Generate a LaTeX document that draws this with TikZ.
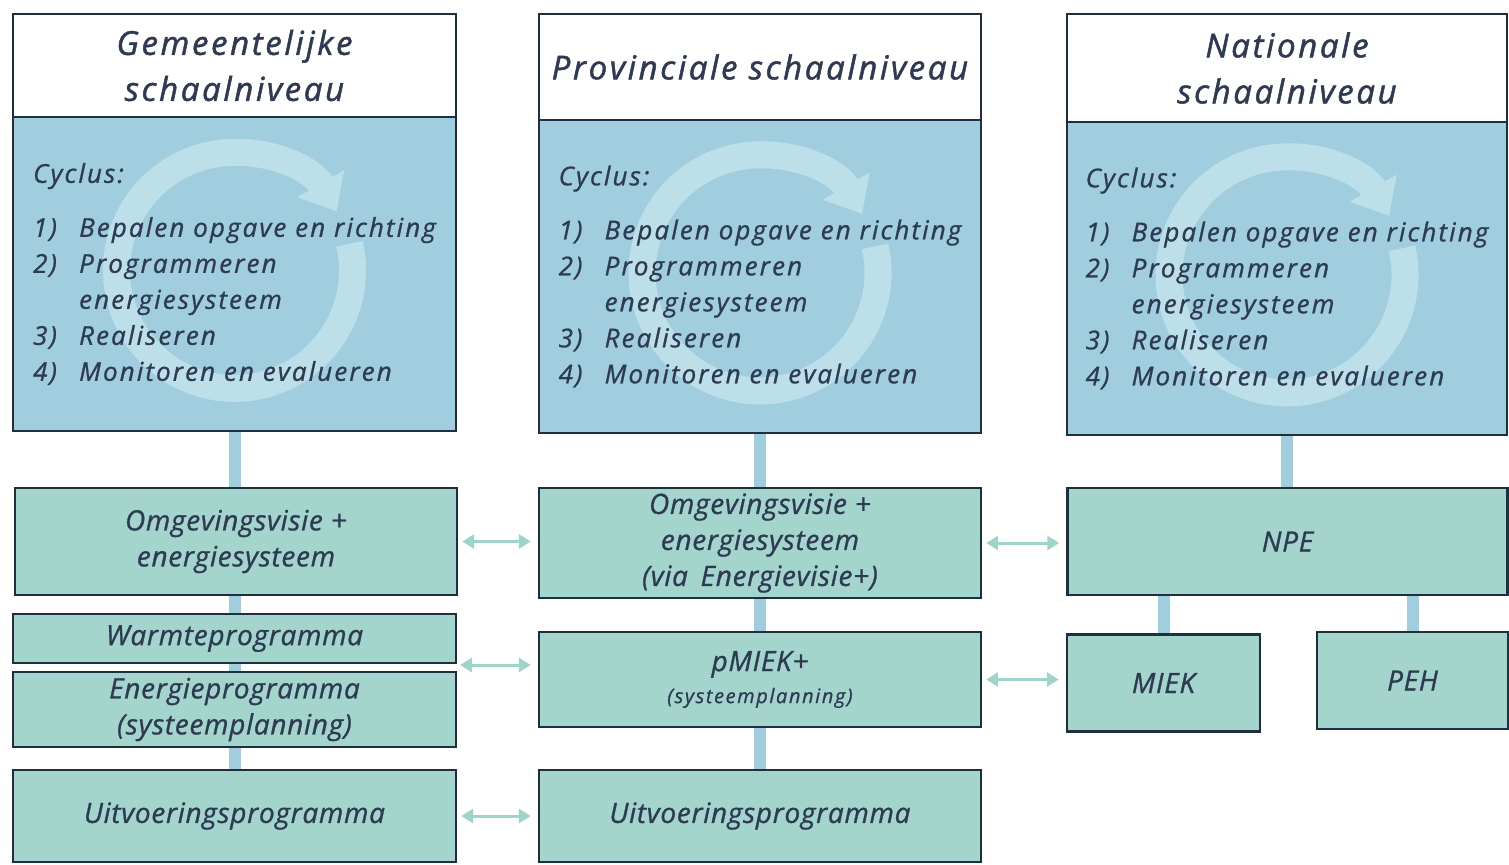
\documentclass[tikz,border=0pt]{standalone}
\usepackage{fontspec}
\setmainfont{Open Sans}
\newfontfamily\handhead{Open Sans}[LetterSpace=8, FakeBold=1.4]
\newfontfamily\handwide{Open Sans}[LetterSpace=8, FakeBold=0.9]
\newfontfamily\handnarrow{Open Sans}[LetterSpace=2.5, FakeBold=0.9]
\usetikzlibrary{arrows.meta,backgrounds}
\definecolor{ink}{HTML}{2E3A52}
\definecolor{edge}{HTML}{1E3040}
\definecolor{cycblue}{HTML}{A0CEDE}
\definecolor{grnfill}{HTML}{A3D5CD}
\definecolor{barblue}{HTML}{A0CEDE}
\definecolor{linkgrn}{HTML}{9FD4CA}
\definecolor{ringblue}{HTML}{BDDFEA}
\newcommand{\itm}[1]{\makebox[23pt][l]{#1}}
\begin{document}
\begin{tikzpicture}[x=0.5pt,y=-0.5pt,
  box/.style={draw=edge, line width=1.2pt, inner sep=0pt, align=center, text=ink,
    font=\handnarrow\itshape\fontsize{14}{18}\selectfont},
  head/.style={box, fill=white, font=\handhead\itshape\fontsize{16.5}{23}\selectfont},
  cyc/.style={box, fill=cycblue, align=left, font=\handwide\itshape\fontsize{13}{18}\selectfont,
    path picture={\draw[draw=ringblue, line width=13.5pt, -{Triangle[width=26pt,length=16pt]}]
      ([yshift=1.8pt]path picture bounding box.center) ++(-13:118)
      arc[start angle=-13, end angle=330, radius=118];}},
  grn/.style={box, fill=grnfill},
  bar/.style={draw=barblue, line width=6pt},
  link/.style={draw=linkgrn, line width=1.5pt,
    {Triangle[width=7pt,length=6pt]}-{Triangle[width=7pt,length=6pt]},
    shorten <=2pt, shorten >=3.5pt}]
\useasboundingbox (0,0) rectangle (1509,864);

% column 1
\node[head, minimum width=221.5pt, minimum height=51.5pt] (h1) at (234.5,65.5) {Gemeentelijke\\schaalniveau};
\node[cyc, minimum width=221.5pt, minimum height=157pt] (c1) at (234.5,274)
  {Cyclus:\\[9pt]\itm{1)}Bepalen opgave en richting\\\itm{2)}Programmeren\\\itm{}energiesysteem\\\itm{3)}Realiseren\\\itm{4)}Monitoren en evalueren};
\node[grn, minimum width=221pt, minimum height=53.5pt] (g1) at (236,541.5) {Omgevingsvisie +\\energiesysteem};
\node[grn, minimum width=221.5pt, minimum height=24.5pt] (w1) at (234.5,638.5) {Warmteprogramma};
\node[grn, minimum width=221.5pt, minimum height=37.5pt] (e1) at (234.5,709.5) {Energieprogramma\\(systeemplanning)};
\node[grn, minimum width=221.5pt, minimum height=46pt] (u1) at (234.5,816) {Uitvoeringsprogramma};

% column 2
\node[head, minimum width=221pt, minimum height=53pt] (h2) at (760,67) {Provinciale schaalniveau};
\node[cyc, minimum width=221pt, minimum height=156.5pt] (c2) at (760,276.5)
  {Cyclus:\\[9pt]\itm{1)}Bepalen opgave en richting\\\itm{2)}Programmeren\\\itm{}energiesysteem\\\itm{3)}Realiseren\\\itm{4)}Monitoren en evalueren};
\node[grn, minimum width=221pt, minimum height=55pt] (g2) at (760,543) {Omgevingsvisie +\\energiesysteem\\(via\, Energievisie+)};
\node[grn, minimum width=221pt, minimum height=47.5pt] (p2) at (760,679.5) {pMIEK+\\[-2pt]{\handwide\fontsize{10}{12}\selectfont(systeemplanning)}};
\node[grn, minimum width=221pt, minimum height=46pt] (u2) at (760,816) {Uitvoeringsprogramma};

% column 3
\node[head, minimum width=220pt, minimum height=54pt] (h3) at (1287,68) {Nationale\\schaalniveau};
\node[cyc, minimum width=220pt, minimum height=156.5pt] (c3) at (1287,278.5)
  {Cyclus:\\[9pt]\itm{1)}Bepalen opgave en richting\\\itm{2)}Programmeren\\\itm{}energiesysteem\\\itm{3)}Realiseren\\\itm{4)}Monitoren en evalueren};
\node[grn, minimum width=220pt, minimum height=53.5pt] (npe) at (1287.5,541.5) {NPE};
\node[grn, minimum width=96.5pt, minimum height=48.5pt] (miek) at (1163.5,683) {MIEK};
\node[grn, minimum width=95.5pt, minimum height=48.5pt] (peh) at (1412.5,680.5) {PEH};

% vertical bars
\begin{scope}[on background layer]
\draw[bar] (c1.south) -- (c1.south |- g1.north);
\draw[bar] (g1.south -| w1.north) -- (w1.north);
\draw[bar] (w1.south) -- (e1.north);
\draw[bar] (e1.south) -- (u1.north);
\draw[bar] (c2.south) -- (g2.north);
\draw[bar] (g2.south) -- (p2.north);
\draw[bar] (p2.south) -- (u2.north);
\draw[bar] (c3.south) -- (c3.south |- npe.north);
\draw[bar] (miek.north |- npe.south) -- (miek.north);
\draw[bar] (peh.north |- npe.south) -- (peh.north);
\end{scope}

% links
\coordinate (r2) at (456,665);
\draw[link] (g1.east) -- (g1.east -| g2.west);
\draw[link] (r2) -- (r2 -| p2.west);
\draw[link] (u1.east) -- (u1.east -| u2.west);
\draw[link] (g2.east) -- (g2.east -| npe.west);
\draw[link] (p2.east) -- (p2.east -| miek.west);
\end{tikzpicture}
\end{document}
